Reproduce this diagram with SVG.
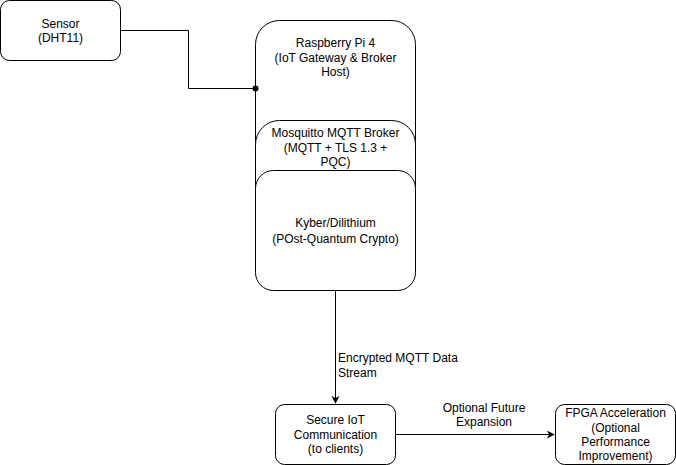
<svg xmlns="http://www.w3.org/2000/svg" width="676" height="465" viewBox="0 0 676 465">
<defs>
<style>
.box{fill:#fff;stroke:#000;stroke-width:1}
.t{font-family:"Liberation Sans",Arial,sans-serif;font-size:12px;fill:#000;text-anchor:middle}
.tl{font-family:"Liberation Sans",Arial,sans-serif;font-size:12px;fill:#000}
.edge{fill:none;stroke:#000;stroke-width:1}
</style>
<marker id="arr" viewBox="0 0 10 10" refX="9" refY="5" markerWidth="8" markerHeight="8" markerUnits="userSpaceOnUse" orient="auto">
<path d="M0,0 L10,5 L0,10 L3,5 Z" fill="#000"/>
</marker>
</defs>
<rect width="676" height="465" fill="#fff"/>
<g id="sensor">
<rect class="box" x="0.5" y="0.5" width="120" height="60" rx="9"/>
<text class="t" x="60.5" y="28">Sensor</text>
<text class="t" x="60.5" y="42">(DHT11)</text>
</g>
<g id="rpi">
<rect class="box" x="255.5" y="20.5" width="160" height="270" rx="24"/>
<text class="t" x="335.5" y="47">Raspberry Pi 4</text>
<text class="t" x="335.5" y="62">(IoT Gateway &amp; Broker</text>
<text class="t" x="335.5" y="76">Host)</text>
</g>
<g id="mosquitto">
<rect class="box" x="255.5" y="120.5" width="160" height="170" rx="24"/>
<text class="t" x="335.5" y="137">Mosquitto MQTT Broker</text>
<text class="t" x="335.5" y="152">(MQTT + TLS 1.3 +</text>
<text class="t" x="335.5" y="166">PQC)</text>
</g>
<g id="kyber">
<rect class="box" x="255.5" y="170.5" width="160" height="120" rx="18"/>
<text class="t" x="335.5" y="227">Kyber/Dilithium</text>
<text class="t" x="335.5" y="243">(POst-Quantum Crypto)</text>
</g>
<g id="secure">
<rect class="box" x="275.5" y="404.5" width="120" height="60" rx="9"/>
<text class="t" x="335.5" y="424">Secure IoT</text>
<text class="t" x="335.5" y="439">Communication</text>
<text class="t" x="335.5" y="453">(to clients)</text>
</g>
<g id="fpga">
<rect class="box" x="555.5" y="404.5" width="120" height="60" rx="9"/>
<text class="t" x="615.5" y="417">FPGA Acceleration</text>
<text class="t" x="615.5" y="432">(Optional</text>
<text class="t" x="615.5" y="446">Performance</text>
<text class="t" x="615.5" y="460">Improvement)</text>
</g>
<g id="connectors">
<path class="edge" d="M120.5,30.5 H188.5 V88.5 H255.5"/>
<circle cx="255.5" cy="88.5" r="3" fill="#000"/>
<path class="edge" d="M335.5,290.5 V403" marker-end="url(#arr)"/>
<text class="tl" x="338" y="362">Encrypted MQTT Data</text>
<text class="tl" x="338" y="377">Stream</text>
<path class="edge" d="M395.5,434.5 H554" marker-end="url(#arr)"/>
<text class="t" x="484" y="412">Optional Future</text>
<text class="t" x="484" y="426">Expansion</text>
</g>
</svg>
